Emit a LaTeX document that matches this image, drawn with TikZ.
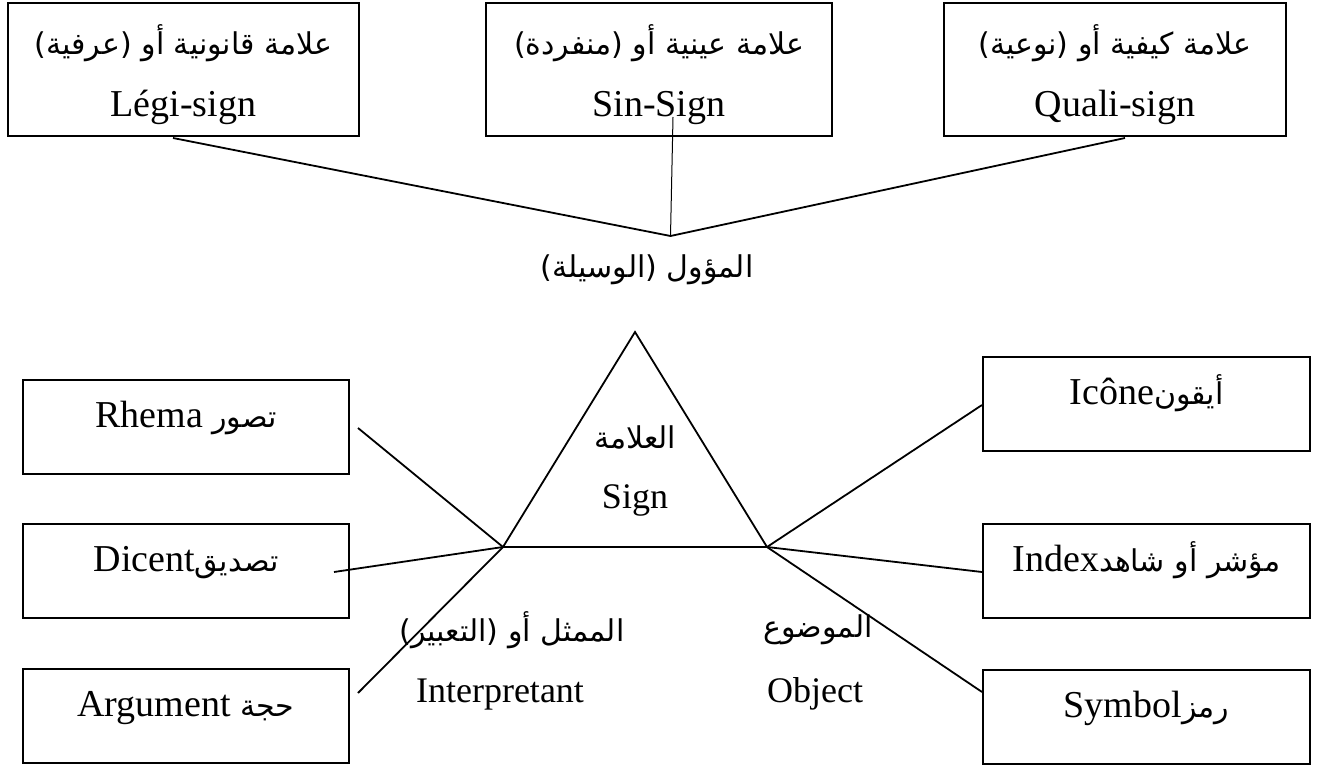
\documentclass[tikz,border=0pt]{standalone}
\usepackage{fontspec}
\setmainfont{Liberation Serif}
\newfontfamily\arabicfont[Script=Arabic]{DejaVu Sans}
\TeXXeTstate=1
\usetikzlibrary{positioning}
\newcommand{\arab}[1]{{\arabicfont\fontsize{30}{36}\selectfont\beginR #1\endR}}
\newcommand{\toparab}[1]{\rule{0pt}{40pt}\arab{#1}}
\tikzset{
  topbox/.style={draw, line width=2pt, minimum height=133pt, align=center,
    font=\fontsize{38}{62}\selectfont},
  sidebox/.style={draw, line width=2pt, minimum width=327pt, minimum height=94pt,
    text height=30pt, text depth=30pt, font=\fontsize{38}{44}\selectfont},
  link/.style={line width=1.8pt},
  lbl/.style={font=\fontsize{36}{44}\selectfont}
}

\begin{document}
\begin{tikzpicture}[x=1pt,y=-1pt]
\useasboundingbox (0,0) rectangle (1319,767);

% Sign classes on top
\node [topbox, minimum width=351pt] (legi) at (183.5,69.5) {\toparab{علامة قانونية أو (عرفية)}\\Légi-sign};
\node [topbox, minimum width=346pt] (sin) at (659,69.5) {\toparab{علامة عينية أو (منفردة)}\\Sin-Sign};
\node [topbox, minimum width=342pt] (quali) at (1115,69.5) {\toparab{علامة كيفية أو (نوعية)}\\Quali-sign};

% Representamen
\coordinate (R) at (670.5,236);
\coordinate (legi-end) at (173,138);
\coordinate (sin-end) at (673,117);
\coordinate (quali-end) at (1125,138);
\draw [link] (legi-end) -- (R) -- (quali-end);
\draw [line width=1pt] (sin-end) -- (R);
\node [lbl] (repr) at (647,270) {\arab{المؤول (الوسيلة)}};

% Triangle
\coordinate (S) at (635,332);
\coordinate (I) at (503,547);
\coordinate (O) at (767,547);
\draw [link] (S) -- (I) -- (O) -- cycle;
\node [lbl] (sign-ar) at (635,437) {\arab{العلامة}};
\node [lbl, anchor=base] (sign) at (635,508) {Sign};

% Interpretant and object
\node [lbl] (interp-ar) at (512,630) {\arab{الممثل أو (التعبير)}};
\node [lbl, anchor=base] (interp) at (500,702) {Interpretant};
\node [lbl] (object-ar) at (818,630) {\arab{الموضوع}};
\node [lbl, anchor=base] (object) at (815,702) {Object};

% Interpretant classes
\node [sidebox, minimum width=326pt] (rhema) at (186,427) {Rhema \arab{تصور}};
\node [sidebox, minimum width=326pt] (dicent) at (186,571) {Dicent\arab{تصديق}};
\node [sidebox, minimum width=326pt] (argument) at (186,716) {Argument \arab{حجة}};
\coordinate (rhema-end) at (358,428);
\coordinate (dicent-end) at (334,572);
\coordinate (argument-end) at (358,693);
\draw [link] (I) -- (rhema-end);
\draw [link] (I) -- (dicent-end);
\draw [link] (I) -- (argument-end);

% Object classes
\node [sidebox] (icone) at (1146.5,404) {Icône\arab{أيقون}};
\node [sidebox] (index) at (1146.5,571) {Index\arab{مؤشر أو شاهد}};
\node [sidebox] (symbol) at (1146.5,717) {Symbol\arab{رمز}};
\draw [link] (O) -- (icone.west |- 0,405);
\draw [link] (O) -- (index.west |- 0,572);
\draw [link] (O) -- (symbol.west |- 0,692);

\end{tikzpicture}
\end{document}
